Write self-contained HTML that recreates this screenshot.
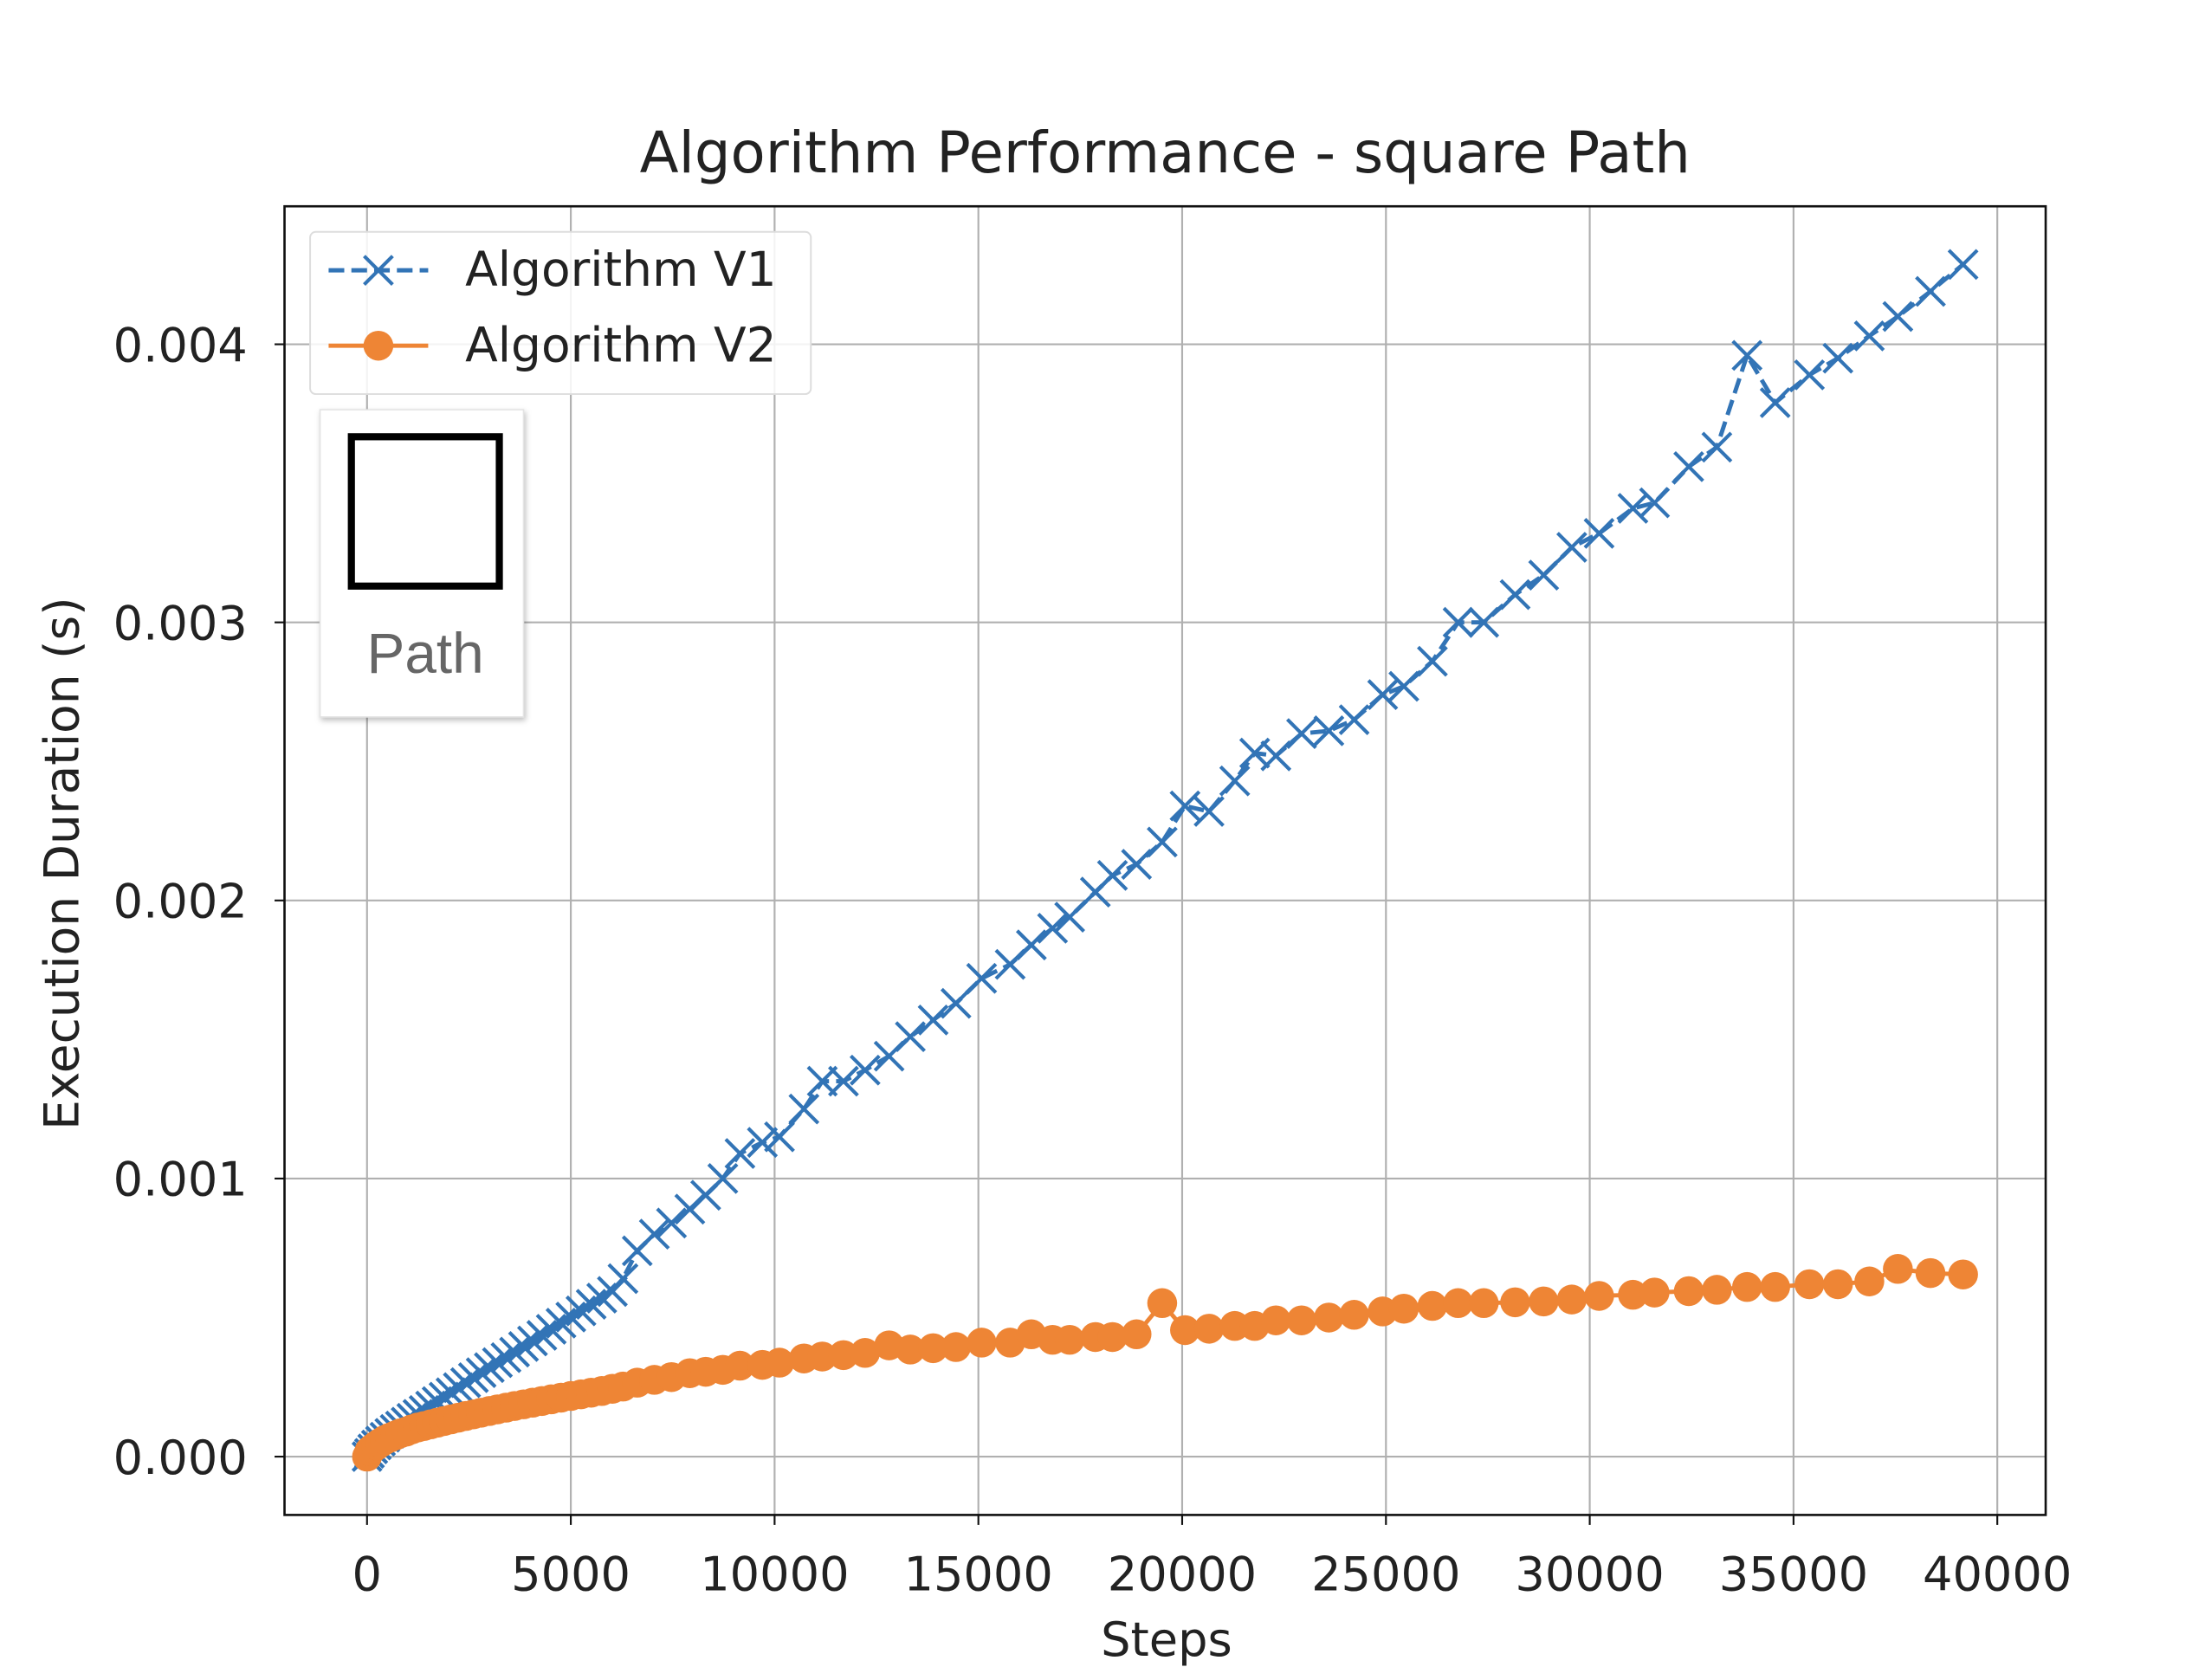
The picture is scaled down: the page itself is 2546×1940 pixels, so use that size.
<!DOCTYPE html>
<html><head><meta charset="utf-8"><style>
html,body{margin:0;padding:0;background:#fff;}
svg{display:block;font-family:"DejaVu Sans","Liberation Sans",sans-serif;}
</style></head><body>
<svg id="chart" width="2546" height="1940" viewBox="0 0 1550 1181" xmlns="http://www.w3.org/2000/svg">
<rect x="0" y="0" width="1550" height="1181" fill="#fff"/>
<text x="819" y="121" text-anchor="middle" font-size="40" fill="#222">Algorithm Performance - square Path</text>
<g id="grid"></g>
<g id="series"></g>
<rect x="200" y="145" width="1238" height="920" fill="none" stroke="#111" stroke-width="1.6"/>
<g id="ticks"></g>
<text x="820" y="1164" text-anchor="middle" font-size="33" fill="#222">Steps</text>
<text x="0" y="0" transform="translate(55,607) rotate(-90)" text-anchor="middle" font-size="33.5" fill="#222">Execution Duration (s)</text>
<g>
<rect x="218" y="163" width="352" height="114" rx="4" fill="#fff" fill-opacity="0.85" stroke="#ddd" stroke-width="1.2"/>
<g>
<line x1="231" y1="190" x2="301" y2="190" stroke="#3274b6" stroke-width="3" stroke-dasharray="11,5"/>
<path d="M256,180 L276,200 M256,200 L276,180" stroke="#3274b6" stroke-width="2.5"/>
<text x="327" y="201" font-size="33.5" fill="#222">Algorithm V1</text></g>
<g>
<line x1="231" y1="243" x2="301" y2="243" stroke="#ee8535" stroke-width="3"/>
<circle cx="266" cy="243" r="10.5" fill="#ee8535"/>
<text x="327" y="254" font-size="33.5" fill="#222">Algorithm V2</text></g>
</g>
<g>
<rect x="225" y="288" width="143" height="216" fill="#fff" stroke="#e4e4e4" stroke-width="1" style="filter:drop-shadow(1px 2px 2px rgba(0,0,0,0.25))"/>
<rect x="247" y="307" width="104" height="105" fill="none" stroke="#000" stroke-width="5"/>
<text x="299" y="473" text-anchor="middle" font-family="Liberation Sans, sans-serif" font-size="40" fill="#666">Path</text>
</g>
</svg>
<script>
const xTicks=[0,5000,10000,15000,20000,25000,30000,35000,40000];
const yTicks=[0,0.001,0.002,0.003,0.004];
const yTickLabels=["0.000","0.001","0.002","0.003","0.004"];
const steps=[0,60,140,230,330,440,560,690,820,960,1100,1250,1400,1560,1720,1890,2060,2240,2420,2610,2800,3000,3200,3410,3620,3840,4060,4290,4520,4760,5000,5250,5500,5760,6020,6280,6630,7050,7470,7920,8310,8730,9150,9700,10120,10720,11170,11690,12220,12810,13330,13890,14450,15080,15780,16300,16820,17240,17870,18290,18880,19510,20070,20660,21290,21780,22300,22930,23600,24220,24920,25440,26140,26770,27400,28170,28870,29560,30230,31060,31590,32430,33120,33860,34550,35390,36090,36860,37560,38360,39160];
const v1=[0,0.000012,0.000028,0.000042,0.000056,0.00007,0.000084,0.000098,0.00011,0.000124,0.000138,0.000152,0.000166,0.000182,0.000198,0.000214,0.00023,0.000248,0.000266,0.000284,0.000302,0.00032,0.000338,0.000356,0.000376,0.000396,0.000416,0.000436,0.000458,0.00048,0.000502,0.000524,0.000548,0.00057,0.000594,0.00064,0.00074,0.0008,0.00084,0.00089,0.00094,0.001,0.00109,0.00113,0.00115,0.00125,0.00135,0.00135,0.00139,0.00144,0.00151,0.00157,0.00163,0.00172,0.00177,0.00184,0.0019,0.00194,0.00203,0.00209,0.00213,0.00221,0.00234,0.00232,0.00243,0.00253,0.00252,0.0026,0.00261,0.00265,0.00274,0.00277,0.00286,0.003,0.003,0.0031,0.00317,0.00327,0.00332,0.00341,0.00343,0.00356,0.00363,0.00396,0.00379,0.00389,0.00395,0.00403,0.0041,0.00419,0.004287];
const v2=[0,0.00002,0.00003,0.00004,0.00005,0.00006,0.000068,0.000076,0.000084,0.00009,0.000098,0.000105,0.00011,0.000116,0.000122,0.000128,0.000134,0.00014,0.000146,0.000152,0.000158,0.000164,0.00017,0.000176,0.000182,0.000188,0.000194,0.0002,0.000206,0.000212,0.000218,0.000224,0.00023,0.000236,0.000244,0.000252,0.000266,0.000276,0.000286,0.0003,0.000305,0.000312,0.000327,0.00033,0.000338,0.000353,0.00036,0.000365,0.000373,0.0004,0.000385,0.00039,0.000394,0.00041,0.00041,0.00044,0.00042,0.00042,0.00043,0.00043,0.00044,0.000552,0.000455,0.00046,0.00047,0.00047,0.00049,0.00049,0.0005,0.00051,0.000522,0.000532,0.000542,0.000552,0.000552,0.000555,0.000558,0.000565,0.000578,0.000582,0.00059,0.000595,0.0006,0.00061,0.00061,0.00062,0.00062,0.00063,0.000675,0.00066,0.000655];
const NS="http://www.w3.org/2000/svg";
function X(v){return 258+v/40000*1146;}
function Y(v){return 1024-v/0.004*782;}
function mk(t,a,p){const e=document.createElementNS(NS,t);for(const k in a)e.setAttribute(k,a[k]);p.appendChild(e);return e;}
const grid=document.getElementById('grid'),ticks=document.getElementById('ticks'),ser=document.getElementById('series');
xTicks.forEach(t=>{
 const g=mk('line',{x1:X(t),x2:X(t),y1:145,y2:1065,stroke:'#b0b0b0','stroke-width':1.3},grid);
 
 
 const k=mk('line',{x1:X(t),x2:X(t),y1:1065,y2:1072,stroke:'#111','stroke-width':1.3},ticks);
 
 
 const l=mk('text',{x:X(t),y:1118,'text-anchor':'middle','font-size':33,fill:'#222'},ticks);
 l.textContent=String(t);
 
 
});
yTicks.forEach((t,i)=>{
 const g=mk('line',{x1:200,x2:1438,y1:Y(t),y2:Y(t),stroke:'#b0b0b0','stroke-width':1.3},grid);
 
 
 const k=mk('line',{x1:193,x2:200,y1:Y(t),y2:Y(t),stroke:'#111','stroke-width':1.3},ticks);
 
 
 const l=mk('text',{x:174,y:Y(t)+12,'text-anchor':'end','font-size':33,fill:'#222'},ticks);
 l.textContent=yTickLabels[i];
 
 
});
const p1=mk('polyline',{points:steps.map((s,i)=>X(s)+','+Y(v1[i])).join(' '),fill:'none',stroke:'#3274b6','stroke-width':3,'stroke-dasharray':'11,5'},ser);


steps.forEach((s,i)=>{
 const x=X(s),y=Y(v1[i]);
 const m=mk('path',{d:`M${x-10},${y-10}L${x+10},${y+10}M${x-10},${y+10}L${x+10},${y-10}`,stroke:'#3274b6','stroke-width':2.5},ser);
 
 
});
const p2=mk('polyline',{points:steps.map((s,i)=>X(s)+','+Y(v2[i])).join(' '),fill:'none',stroke:'#ee8535','stroke-width':3},ser);


steps.forEach((s,i)=>{
 const c=mk('circle',{cx:X(s),cy:Y(v2[i]),r:10.5,fill:'#ee8535'},ser);
 
 
});
</script>
</body></html>
